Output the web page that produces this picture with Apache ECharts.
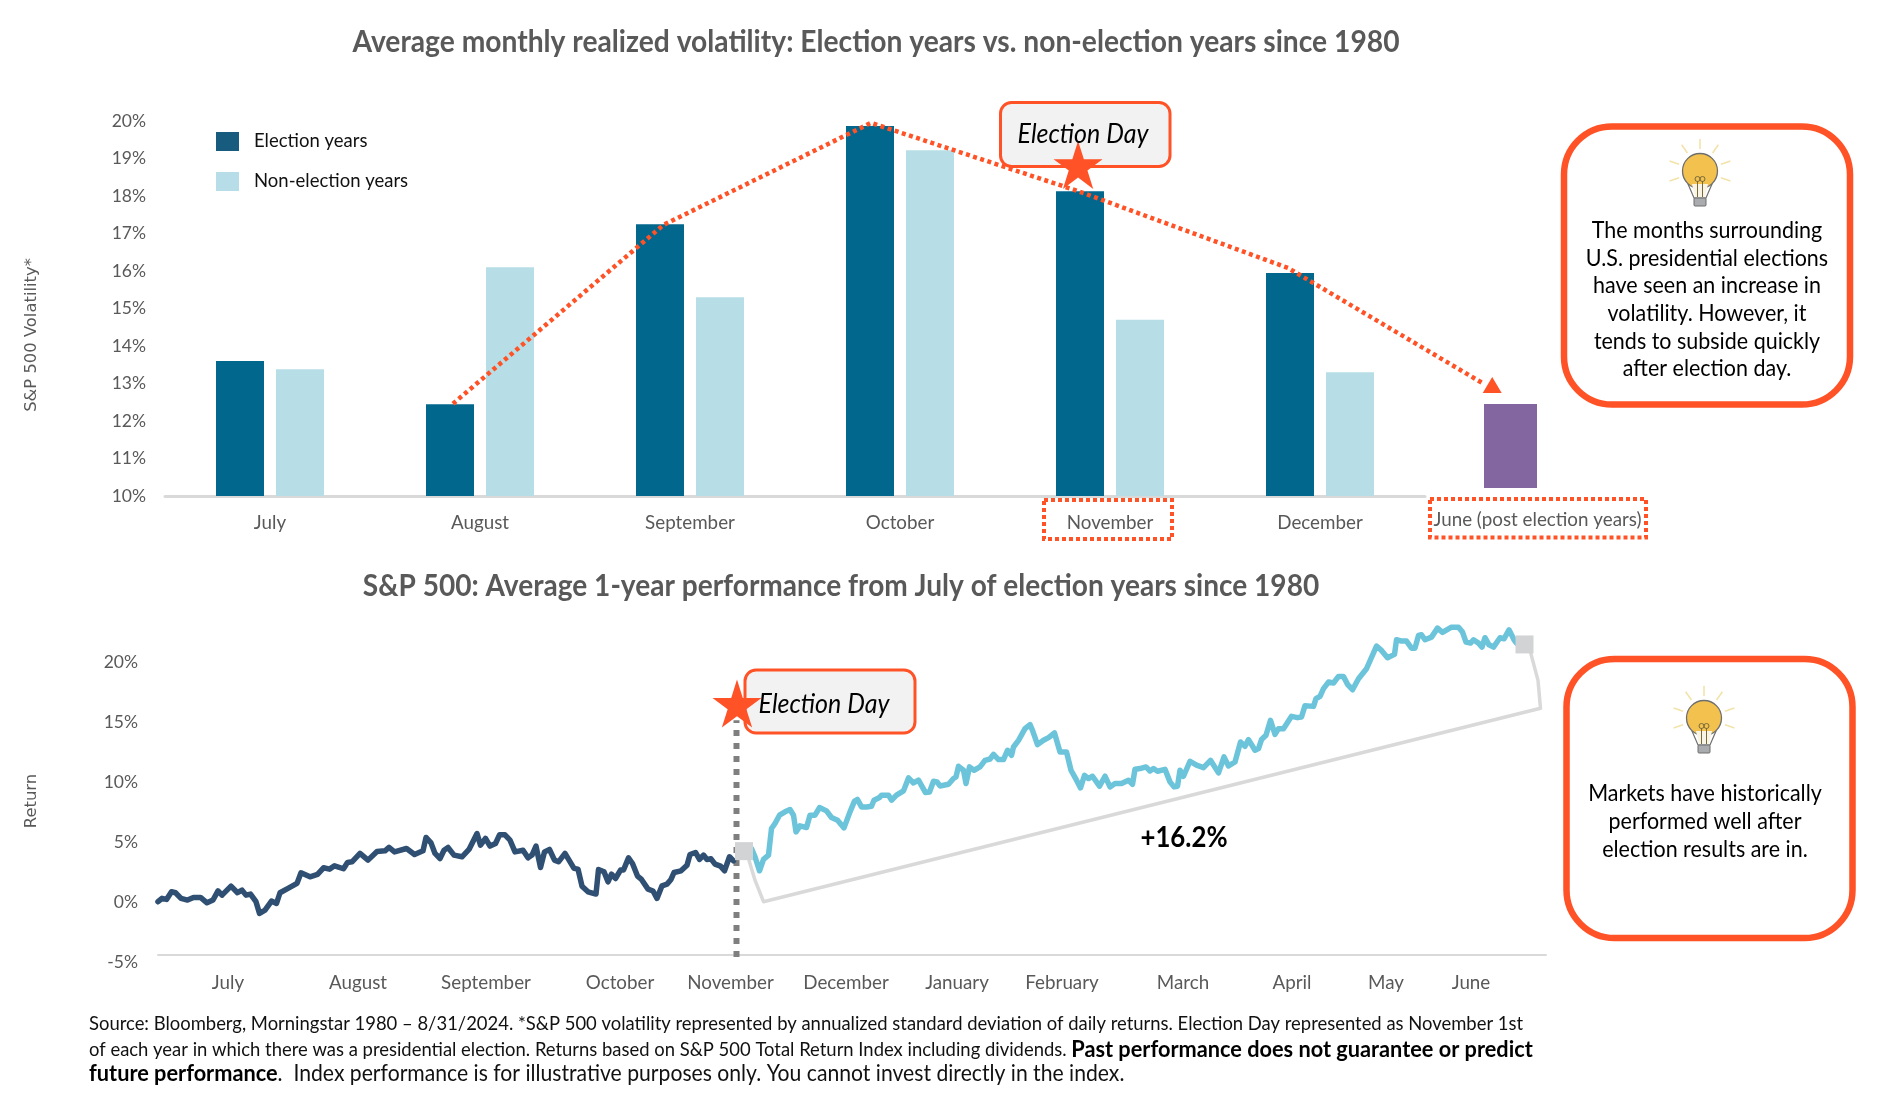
<!DOCTYPE html>
<html><head><meta charset="utf-8">
<style>html,body{margin:0;padding:0;background:#fff}#c{width:1885px;height:1095px}</style>
<script src="https://cdn.jsdelivr.net/npm/echarts@6/dist/echarts.min.js"></script>
</head><body><div id="c"></div>
<script>
const months = ['July','August','September','October','November','December'];
const electionYears = [13.6,12.45,17.25,19.87,18.13,15.95];
const nonElectionYears = [13.38,16.1,15.3,19.22,14.7,13.3];
const juneLabel = ['June (post election years)'];
const juneValue = [12.45];
const trendX = [1.371,2.374,3.362,4.348,5.348,6.28];
const trendY = [12.46,17.23,19.95,18.13,16.08,12.99];
const arrowPoint = [6.32,12.96];
const starTop = [4.348,18.83];

const perfMonths = ['July','August','September','October','November','December','January','February','March','April','May','June'];
const perfMonthPos = [14,40,65.6,92.4,114.5,137.6,159.8,180.8,205,226.8,245.6,262.6];
const darkT = [0,0.8,1.7,2.7,3.5,4.6,5.9,7.1,8.5,9.8,11,12,12.8,14.6,15.9,16.8,17.6,18.5,19.6,20.3,21.4,22.7,23.7,24.4,26,27.8,28.6,30.4,31.9,33.1,34.3,35.3,37.1,37.9,38.8,40.4,42,43.8,45.4,46.2,47.3,49.7,51.3,53,53.6,54.6,55.4,56.4,57.2,58,59.2,60.8,62.2,63.8,64.5,65.5,66.4,67.5,68.3,69.4,70.4,71.4,73,74,74.8,75.6,76.5,77.3,78.3,79.3,80.1,81.4,83.2,84,84.8,86,87.6,88.1,89.2,90,90.7,91.5,92.5,93.1,94.1,94.9,95.9,96.7,98,99,99.8,100.8,101.8,102.6,103.2,104.6,105.8,106.4,107.5,108.3,109.1,109.8,110.6,111.4,112.5,113.3,114.3,115.1];
const darkV = [0.03,0.31,0.22,0.86,0.78,0.31,0.17,0.39,0.39,-0.06,0.17,0.94,0.58,1.33,0.78,1,0.58,0.67,0.03,-0.94,-0.67,0.08,-0.11,0.78,1.14,1.56,2.44,2.11,2.31,2.86,2.75,3.03,2.78,3.31,3.36,4.06,3.5,4.22,4.28,4.56,4.19,4.47,3.97,4.28,5.39,4.94,4.06,3.64,4.33,4.56,3.92,3.78,4.39,5.72,4.75,5.31,4.67,4.89,5.61,5.61,5.17,4.19,4.33,3.69,3.92,4.67,2.89,4.19,4.39,3.5,3.36,4.06,2.81,2.75,1.33,0.86,0.67,2.72,2.53,1.69,2.33,1.97,2.67,2.67,3.69,3.22,2.17,1.89,1.08,0.92,0.31,1.36,1.5,1.89,2.47,2.61,3.08,3.97,4.14,3.56,3.92,3.56,3.61,3.17,3,2.61,3.78,3.44];
const lightT = [118.7,119.4,120.3,121.1,122.1,122.7,123.4,124.3,125.4,126.4,127.1,127.6,128.4,129.7,130.4,131.4,132.3,133.7,134.7,135.9,137.2,138.4,139.3,139.9,140.7,141.7,142.7,143.2,144.3,144.7,146.1,146.7,147.7,149.1,150.1,151.1,152.1,153.5,154.3,155.1,155.8,156.4,158.1,159.1,159.6,160.1,161.1,161.6,162.3,163.2,164.4,165.4,166.4,167.1,168.1,169.1,169.9,170.7,171.1,172.1,173.4,174.4,174.9,175.9,177.1,178.1,179.3,180.4,181.7,182.6,183.7,184.5,185.3,186.1,186.9,188.3,189.4,190.4,191.4,192.7,194.1,194.9,195.4,196.4,197.6,198.4,199.1,199.9,201.4,202.4,203.2,203.9,204.4,205.1,206.4,207.7,209.1,210.5,212.1,213.2,214.1,215.4,216.5,217.4,218.1,219.4,220.1,220.7,221.6,222.5,223.4,224.1,225.1,226.7,227.9,228.7,229.4,231.1,231.6,232.4,233.1,234.1,235.1,236.1,237.1,237.9,238.9,240.1,241.7,243.7,244.7,245.9,247.3,247.7,248.7,249.7,250.7,251.4,252.1,252.7,253.4,254.7,255.9,256.9,258.7,260.1,260.9,261.6,262.5,263.1,264.1,264.8,265.4,266.2,267.1,268.4,269.2,270.2,271.2,271.7];
const lightV = [4.47,3.78,2.61,3.56,3.92,6.14,6.56,7.25,7.53,7.72,7.25,5.86,6.36,6.22,7.25,7.25,7.89,7.61,7.06,6.83,6.19,7.53,8.42,8.56,7.94,7.94,8,8.5,8.72,8.92,8.92,8.5,8.92,9.28,10.36,9.94,10.17,9.14,9.19,10.08,10.03,9.69,9.83,10.31,10.44,11.33,11,9.89,11.28,11,11.28,11.83,11.94,12.33,11.89,11.89,12.67,12.25,12.94,13.5,14.47,14.81,14.33,13.14,13.5,13.72,14.11,12.53,12.53,11,10.17,9.53,10.58,10.31,10.5,9.67,10.5,9.61,9.89,9.89,10.17,9.83,11.08,11.14,11.28,10.94,11.14,10.92,11.08,10.03,9.61,9.67,11,10.5,11.75,11.42,11.22,11.83,10.78,12.11,11.36,11.69,13.36,13,13.56,12.67,12.81,13.56,13.92,15.17,14,14.47,14.47,15.5,15.39,15.44,16.39,16.33,16.97,17.17,17.81,18.36,18.28,18.83,18.83,18.17,17.72,18.64,19.47,21.36,21,20.39,20.67,21.89,21.78,21.78,21.19,21.19,22.25,22.31,21.89,22.11,22.86,22.5,22.94,22.94,22.53,21.69,21.61,21.89,21.61,21.28,22.06,21.47,21.28,22.06,21.97,22.72,21.89,21.61];
const bracketT = [118.2,119.4,121.1,276.5,276,274.4];
const bracketV = [3.5,1.83,0.03,16.17,18.5,21];
const squareT = [117.2,273.3];
const squareV = [4.25,21.5];
const electionDayT = [115.7,115.7];
const electionDayV = [-4.58,15.17];
const starPerf = [115.8,16.56];

const FONT='Lato', RED='#FF5226', GREY='#595959';
const STAR='path://M50 0 L61.8 36.3 L100 36.3 L69.1 58.8 L80.9 95.1 L50 72.7 L19.1 95.1 L30.9 58.8 L0 36.3 L38.2 36.3 Z';

function txt(x,y,text,o={}){
  return {type:'text',x,y,z:o.z||8,scaleX:o.sx||0.89,rotation:o.rot||0,silent:true,
    style:{text,fontFamily:o.font||FONT,fontSize:o.size||18,fontWeight:o.bold?'bold':'normal',
      fontStyle:o.italic?'italic':'normal',fill:o.color||'#000',align:o.align||'center',verticalAlign:'middle',rich:o.rich}};
}
function rbox(x,y,w,h,r,lw,fill,z,dash){
  return {type:'rect',z:z||1,silent:true,shape:{x,y,width:w,height:h,r},
    style:{fill:fill||'none',stroke:RED,lineWidth:lw,lineDash:dash||null}};
}
function bulb(cx,cy){
  const kids=[];
  [-90,-55,-125,-18,-162,18,162].forEach(a=>{
    const t=a*Math.PI/180;
    kids.push({type:'line',z:6,shape:{x1:22*Math.cos(t),y1:22*Math.sin(t),x2:32*Math.cos(t),y2:32*Math.sin(t)},style:{stroke:'#F3E3A8',lineWidth:1.6}});
  });
  kids.push({type:'polygon',z:6,shape:{points:[[-12,13],[-6,27],[6,27],[12,13]]},style:{fill:'#fff',stroke:'#6E6E6E',lineWidth:1.2}});
  kids.push({type:'circle',z:6,shape:{cx:0,cy:0,r:17.5},style:{fill:'#F2C14E',stroke:'#6E6E6E',lineWidth:1.3}});
  kids.push({type:'polygon',z:6,shape:{points:[[-8,13],[-5,26],[5,26],[8,13]]},style:{fill:'#F8F4E6',stroke:'none'}});
  kids.push({type:'line',z:6,shape:{x1:-2.5,y1:10,x2:-2.5,y2:26},style:{stroke:'#7A6A3A',lineWidth:1}});
  kids.push({type:'line',z:6,shape:{x1:2.5,y1:10,x2:2.5,y2:26},style:{stroke:'#7A6A3A',lineWidth:1}});
  kids.push({type:'circle',z:6,shape:{cx:-2.5,cy:8,r:2.5},style:{fill:'none',stroke:'#7A6A3A',lineWidth:1}});
  kids.push({type:'circle',z:6,shape:{cx:2.5,cy:8,r:2.5},style:{fill:'none',stroke:'#7A6A3A',lineWidth:1}});
  kids.push({type:'rect',z:6,shape:{x:-6,y:27,width:12,height:8,r:1},style:{fill:'#A9ABAE',stroke:'#6E6E6E',lineWidth:1}});
  return {type:'group',x:cx,y:cy,silent:true,children:kids};
}
const pairs=(a,b)=>a.map((v,i)=>[v,b[i]]);

const FOOT=19.5, SXF=0.945;
const boldRich={b:{fontFamily:FONT,fontSize:23,fontWeight:'bold',fill:'#000'}};

const graphics=[
  txt(876,42,'Average monthly realized volatility: Election years vs. non-election years since 1980',{size:30.5,sx:0.925,bold:true,color:GREY}),
  txt(841,586,'S&P 500: Average 1-year performance from July of election years since 1980',{size:30.5,sx:0.92,bold:true,color:GREY}),
  txt(32,335,'S&P 500 Volatility*',{font:'DejaVu Sans',size:16.4,rot:Math.PI/2,color:GREY,sx:1}),
  txt(32,801,'Return',{font:'DejaVu Sans',size:16.4,rot:Math.PI/2,color:GREY,sx:1}),
  rbox(1000.5,102.5,169.5,64,11,3,'#F2F2F2',1),
  txt(1083,134,'Election Day',{size:27,sx:0.925,italic:true}),
  rbox(745,670,170,63,11,3,'#F2F2F2',1),
  txt(824,704,'Election Day',{size:27,sx:0.925,italic:true}),
  rbox(1044,500,128,39,0,4,null,3,[4,3]),
  rbox(1430,499,216,38.5,0,4,null,3,[4,3]),
  rbox(1564,126.5,286,278,48,6.5,'#fff',1),
  rbox(1566.5,659,286,279,48,6.5,'#fff',1),
  bulb(1700,171),
  bulb(1704,718),
  ...['The months surrounding','U.S. presidential elections','have seen an increase in','volatility. However, it','tends to subside quickly','after election day.'].map((s,i)=>txt(1707,230.4+i*27.6,s,{size:24,sx:0.895})),
  ...['Markets have historically','performed well after','election results are in.'].map((s,i)=>txt(1705,793.5+i*28,s,{size:24,sx:0.895})),
  txt(1184,838,'+16.2%',{size:29,bold:true}),
  txt(89,1024,'Source: Bloomberg, Morningstar 1980 – 8/31/2024. *S&P 500 volatility represented by annualized standard deviation of daily returns. Election Day represented as November 1st',{size:FOOT,sx:SXF,align:'left',color:'#111'}),
  txt(89,1049.5,'of each year in which there was a presidential election. Returns based on S&P 500 Total Return Index including dividends. {b|Past performance does not guarantee or predict}',{size:FOOT,sx:SXF,align:'left',color:'#111',rich:boldRich}),
  txt(89,1074,'{b|future performance}.  Index performance is for illustrative purposes only. You cannot invest directly in the index.',{size:22.4,sx:SXF,align:'left',color:'#111',rich:boldRich})
];

const axisFont={fontFamily:FONT,fontSize:18.8,color:GREY};
const yFont={fontFamily:FONT,fontSize:17.5,color:GREY};
const chart=echarts.init(document.getElementById('c'),null,{renderer:'canvas'});
chart.setOption({
  animation:false,backgroundColor:'#fff',
  legend:{left:216,top:132,padding:0,orient:'vertical',itemWidth:23,itemHeight:19,itemGap:21,icon:'rect',
    textStyle:{fontFamily:FONT,fontSize:18.5,color:'#111',padding:[0,0,0,10]},
    data:[{name:'Election years',itemStyle:{color:'#175C7F'}},{name:'Non-election years',itemStyle:{color:'#B7DEE8'}}]},
  grid:[
    {left:165,top:121,width:1260,height:375},
    {left:1484,top:121,width:53,height:367},
    {left:165,top:121,width:1470,height:375},
    {left:158,top:662.4,width:1388,height:299.6}
  ],
  xAxis:[
    {gridIndex:0,type:'category',data:months,axisTick:{show:false},axisLine:{lineStyle:{color:'#D9D9D9',width:3}},axisLabel:{...axisFont,margin:17}},
    {gridIndex:1,type:'category',data:juneLabel,axisTick:{show:false},axisLine:{show:false},axisLabel:{...axisFont,margin:22,padding:[0,0,0,54]}},
    {gridIndex:2,type:'value',min:0,max:7,show:false},
    {gridIndex:3,type:'value',min:0,max:277.6,offset:-7,splitLine:{show:false},
      axisLine:{onZero:false,lineStyle:{color:'#D9D9D9',width:2}},axisTick:{show:false},
      axisLabel:{...axisFont,margin:18,customValues:perfMonthPos,formatter:v=>perfMonths[perfMonthPos.indexOf(v)]||''}}
  ],
  yAxis:[
    {gridIndex:0,type:'value',min:10,max:20,interval:1,splitLine:{show:false},axisLine:{show:false},axisTick:{show:false},axisLabel:{...yFont,margin:19,padding:[2,0,0,0],formatter:'{value}%'}},
    {gridIndex:1,type:'value',min:10.213,max:20,show:false},
    {gridIndex:2,type:'value',min:10,max:20,show:false},
    {gridIndex:3,type:'value',min:-5,max:20,interval:5,splitLine:{show:false},axisLine:{show:false},axisTick:{show:false},axisLabel:{...yFont,margin:20,padding:[5,0,0,0],formatter:'{value}%'}}
  ],
  series:[
    {name:'Election years',type:'bar',xAxisIndex:0,yAxisIndex:0,data:electionYears,barWidth:48,barGap:'25%',itemStyle:{color:'#02678D'},z:2},
    {name:'Non-election years',type:'bar',xAxisIndex:0,yAxisIndex:0,data:nonElectionYears,barWidth:48,itemStyle:{color:'#B7DEE7'},z:2},
    {name:'June',type:'bar',xAxisIndex:1,yAxisIndex:1,data:juneValue,barWidth:53,itemStyle:{color:'#8366A0'},z:2},
    {name:'Trend',type:'line',xAxisIndex:2,yAxisIndex:2,data:pairs(trendX,trendY),showSymbol:false,lineStyle:{color:RED,width:4.5,type:[4,3.5]},z:4,silent:true},
    {name:'Arrow',type:'scatter',xAxisIndex:2,yAxisIndex:2,data:[arrowPoint],symbol:'triangle',symbolSize:[19,16],itemStyle:{color:RED,opacity:1},z:4,silent:true},
    {name:'Star1',type:'scatter',xAxisIndex:2,yAxisIndex:2,data:[starTop],symbol:STAR,symbolSize:[49,48],itemStyle:{color:RED,opacity:1},z:5,silent:true},
    {name:'Bracket',type:'line',xAxisIndex:3,yAxisIndex:3,clip:false,data:pairs(bracketT,bracketV),showSymbol:false,lineStyle:{color:'#D9D9D9',width:3.5,join:'round',cap:'round'},z:2,silent:true},
    {name:'ElectionDay',type:'line',xAxisIndex:3,yAxisIndex:3,data:pairs(electionDayT,electionDayV),showSymbol:false,lineStyle:{color:'#7F7F7F',width:6,type:[6,7]},z:2,silent:true},
    {name:'Pre',type:'line',xAxisIndex:3,yAxisIndex:3,clip:false,data:pairs(darkT,darkV),showSymbol:false,lineStyle:{color:'#2F4F73',width:5.5,join:'round',cap:'round'},z:3,silent:true},
    {name:'Post',type:'line',xAxisIndex:3,yAxisIndex:3,clip:false,data:pairs(lightT,lightV),showSymbol:false,lineStyle:{color:'#6CC4DB',width:5.5,join:'round',cap:'round'},z:3,silent:true},
    {name:'Squares',type:'scatter',xAxisIndex:3,yAxisIndex:3,clip:false,data:pairs(squareT,squareV),symbol:'rect',symbolSize:18,itemStyle:{color:'#D2D3D5',opacity:1},z:4,silent:true},
    {name:'Star2',type:'scatter',xAxisIndex:3,yAxisIndex:3,data:[starPerf],symbol:STAR,symbolSize:[49,48],itemStyle:{color:RED,opacity:1},z:5,silent:true}
  ],
  graphic:{elements:graphics}
});
</script></body></html>
